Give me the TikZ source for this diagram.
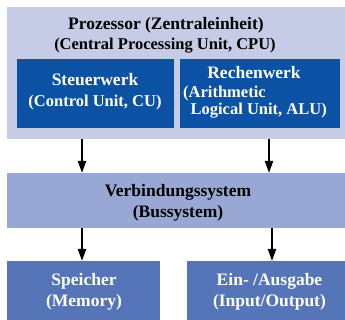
\documentclass[tikz,border=0pt]{standalone}
\usepackage{fontspec}
\setmainfont{Liberation Serif}
\usepackage{tikz}
\usetikzlibrary{arrows.meta,positioning}
\definecolor{cpubg}{HTML}{C6CCE5}
\definecolor{unit}{HTML}{0B52A4}
\definecolor{bus}{HTML}{98A7D4}
\definecolor{dev}{HTML}{5674B8}
\newcommand{\bigtxt}{\bfseries\fontsize{17.5}{21}\selectfont}
\newcommand{\subtxt}{\bfseries\fontsize{16.5}{21}\selectfont}
\newcommand{\alutxt}{\bfseries\fontsize{16.5}{17}\selectfont}
\tikzset{
  box/.style={draw=none, inner sep=0pt, anchor=north west},
  unitbox/.style={box, fill=unit, minimum height=69pt},
  devbox/.style={box, fill=dev, minimum height=59pt},
  lab/.style={inner sep=0pt, align=center, font=\bigtxt},
  labw/.style={lab, text=white},
  link/.style={draw=black, line width=2pt, -{Triangle[length=12pt,width=8pt]}},
}
\begin{document}
\begin{tikzpicture}[x=1pt,y=-1pt]
\useasboundingbox (0,0) rectangle (345,320);

% processor frame
\fill[cpubg] (7,7) rectangle (345,139);
\node[lab] (cputitle) at (166,25) {Prozessor (Zentraleinheit)};
\node[lab, font=\subtxt] (cpusub) at (165,46) {(Central Processing Unit, CPU)};

% control and arithmetic units
\node[unitbox, minimum width=157pt] (cu) at (17,59) {};
\node[unitbox, minimum width=160pt] (alu) at (180,59) {};
\node[labw] (cutitle) at (95,80) {Steuerwerk};
\node[labw, font=\subtxt] (cusub) at (95,103) {(Control Unit, CU)};
\node[labw] (alutitle) at (254,73) {Rechenwerk};
\node[labw, font=\alutxt, align=left, anchor=west] (alusub) at (183,102.5)
  {(Arithmetic\\[0pt]\hspace*{0.45em}Logical Unit, ALU)};

% bus
\fill[bus] (7,173) rectangle (345,228);
\node[lab] (bustxt) at (178,202.5) {Verbindungssystem\\(Bussystem)};

% memory and io
\node[devbox, minimum width=153pt] (mem) at (7,261) {};
\node[devbox, minimum width=158pt] (io) at (187,261) {};
\node[labw] (memtxt) at (84,292) {Speicher\\(Memory)};
\node[labw] (iotxt) at (269.5,292) {Ein- /Ausgabe\\(Input/Output)};

\coordinate (a1) at (82,139);
\coordinate (a2) at (269,139);
\coordinate (c1) at (82,228);
\coordinate (c2) at (272,228);
\draw[link] (a1) -- (a1 |- 0,173);
\draw[link] (a2) -- (a2 |- 0,173);
\draw[link] (c1) -- (mem.north -| c1);
\draw[link] (c2) -- (io.north -| c2);
\end{tikzpicture}
\end{document}
